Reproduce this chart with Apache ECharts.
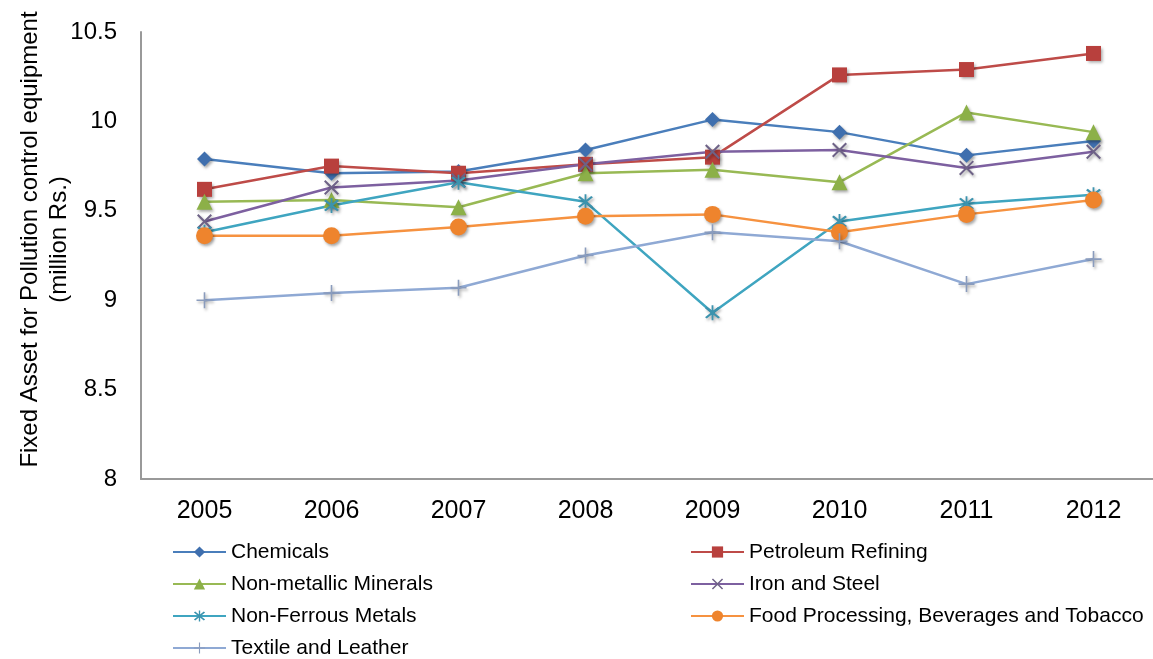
<!DOCTYPE html>
<html>
<head>
<meta charset="utf-8">
<script src="https://cdn.jsdelivr.net/npm/echarts@6/dist/echarts.min.js"></script>
<style>
  html, body { margin: 0; padding: 0; background: #ffffff; }
  #chart { width: 1153px; height: 659px; }
</style>
</head>
<body>
<div id="chart"></div>
<script>
// Fixed asset for pollution control equipment by industry, 2005-2012
const years = ['2005', '2006', '2007', '2008', '2009', '2010', '2011', '2012'];

const chemicals      = [9.79, 9.71, 9.72, 9.84, 10.01, 9.94, 9.81, 9.89];
const petroleum      = [9.62, 9.75, 9.71, 9.76, 9.80, 10.26, 10.29, 10.38];
const nonMetallic    = [9.55, 9.56, 9.52, 9.71, 9.73, 9.66, 10.05, 9.94];
const ironSteel      = [9.44, 9.63, 9.67, 9.76, 9.83, 9.84, 9.74, 9.83];
const nonFerrous     = [9.38, 9.53, 9.66, 9.55, 8.93, 9.44, 9.54, 9.59];
const foodProcessing = [9.36, 9.36, 9.41, 9.47, 9.48, 9.38, 9.48, 9.56];
const textile        = [9.00, 9.04, 9.07, 9.25, 9.38, 9.33, 9.09, 9.23];

const FONT = '"Liberation Sans", Arial, sans-serif';

// filled outline shapes for the cross-type markers
const SYM_X = 'path://M1.06,-1.06L21.06,18.94L18.94,21.06L-1.06,1.06Z' +
              'M21.06,1.06L1.06,21.06L-1.06,18.94L18.94,-1.06Z';
const SYM_STAR = 'path://M3.06,0.94L19.06,16.94L16.94,19.06L0.94,3.06Z' +
                 'M19.06,3.06L3.06,19.06L0.94,16.94L16.94,0.94Z' +
                 'M8.9,-1.5L11.1,-1.5L11.1,21.5L8.9,21.5Z';
const SYM_PLUS = 'path://M0,9L20,9L20,11L0,11Z M9,0L11,0L11,20L9,20Z';

function makeSeries(name, data, color, symbol, size, markColor) {
  return {
    name: name,
    type: 'line',
    data: data,
    symbol: symbol,
    symbolSize: size,
    showAllSymbol: true,
    lineStyle: { color: color, width: 2.5 },
    itemStyle: {
      color: markColor || color,
      shadowBlur: 3,
      shadowOffsetX: 1.5,
      shadowOffsetY: 2,
      shadowColor: 'rgba(0,0,0,0.35)'
    },
    emphasis: { disabled: true },
    z: 2
  };
}

// legend entries laid out in two columns, one small legend per entry
const legendNames = [
  ['Chemicals', 172, 0], ['Petroleum Refining', 690, 0],
  ['Non-metallic Minerals', 172, 1], ['Iron and Steel', 690, 1],
  ['Non-Ferrous Metals', 172, 2], ['Food Processing, Beverages and Tobacco', 690, 2],
  ['Textile and Leather', 172, 3]
];

function makeLegend(entry) {
  return {
    orient: 'horizontal',
    left: entry[1],
    top: 541 + entry[2] * 32,
    padding: 0,
    itemWidth: 53,
    itemHeight: 14,
    data: [entry[0]],
    textStyle: { fontFamily: FONT, fontSize: 21, color: '#000', lineHeight: 22 },
    itemStyle: { shadowBlur: 0, shadowOffsetX: 0, shadowOffsetY: 0 },
    selectedMode: false
  };
}

const chart = echarts.init(document.getElementById('chart'), null, { renderer: 'canvas' });

chart.setOption({
  animation: false,
  backgroundColor: '#ffffff',
  grid: { left: 141, top: 32, width: 1016, height: 447, containLabel: false, outerBoundsMode: 'none' },
  legend: legendNames.map(makeLegend),
  xAxis: {
    type: 'category',
    data: years,
    boundaryGap: true,
    axisLine: { lineStyle: { color: '#999999', width: 2 } },
    axisTick: { show: false },
    axisLabel: { fontFamily: FONT, fontSize: 25, color: '#000', margin: 20 },
    splitLine: { show: false }
  },
  yAxis: {
    type: 'value',
    min: 8,
    max: 10.5,
    interval: 0.5,
    name: 'Fixed Asset for Pollution control equipment\n(million Rs.)',
    nameLocation: 'middle',
    nameRotate: 90,
    nameGap: 67,
    nameMoveOverlap: false,
    nameTextStyle: { fontFamily: FONT, fontSize: 24, color: '#000', lineHeight: 29, padding: [0, 0, 0, 32] },
    axisLine: { show: true, lineStyle: { color: '#999999', width: 2 } },
    axisTick: { show: false },
    axisLabel: { fontFamily: FONT, fontSize: 24, color: '#000', margin: 24 },
    splitLine: { show: false }
  },
  series: [
    makeSeries('Chemicals', chemicals, '#4A7EBB', 'diamond', 15, '#3F6FAE'),
    makeSeries('Petroleum Refining', petroleum, '#BE4B48', 'rect', 15, '#B8403D'),
    makeSeries('Non-metallic Minerals', nonMetallic, '#98B954', 'triangle', 16, '#8CB048'),
    makeSeries('Iron and Steel', ironSteel, '#7D60A0', SYM_X, 15, '#6E6287'),
    makeSeries('Non-Ferrous Metals', nonFerrous, '#3FA5C0', SYM_STAR, 15, '#3C93AE'),
    makeSeries('Food Processing, Beverages and Tobacco', foodProcessing, '#F69240', 'circle', 17, '#EE842D'),
    makeSeries('Textile and Leather', textile, '#8FA9D4', SYM_PLUS, 16, '#8A9CBD')
  ]
});
</script>
</body>
</html>
